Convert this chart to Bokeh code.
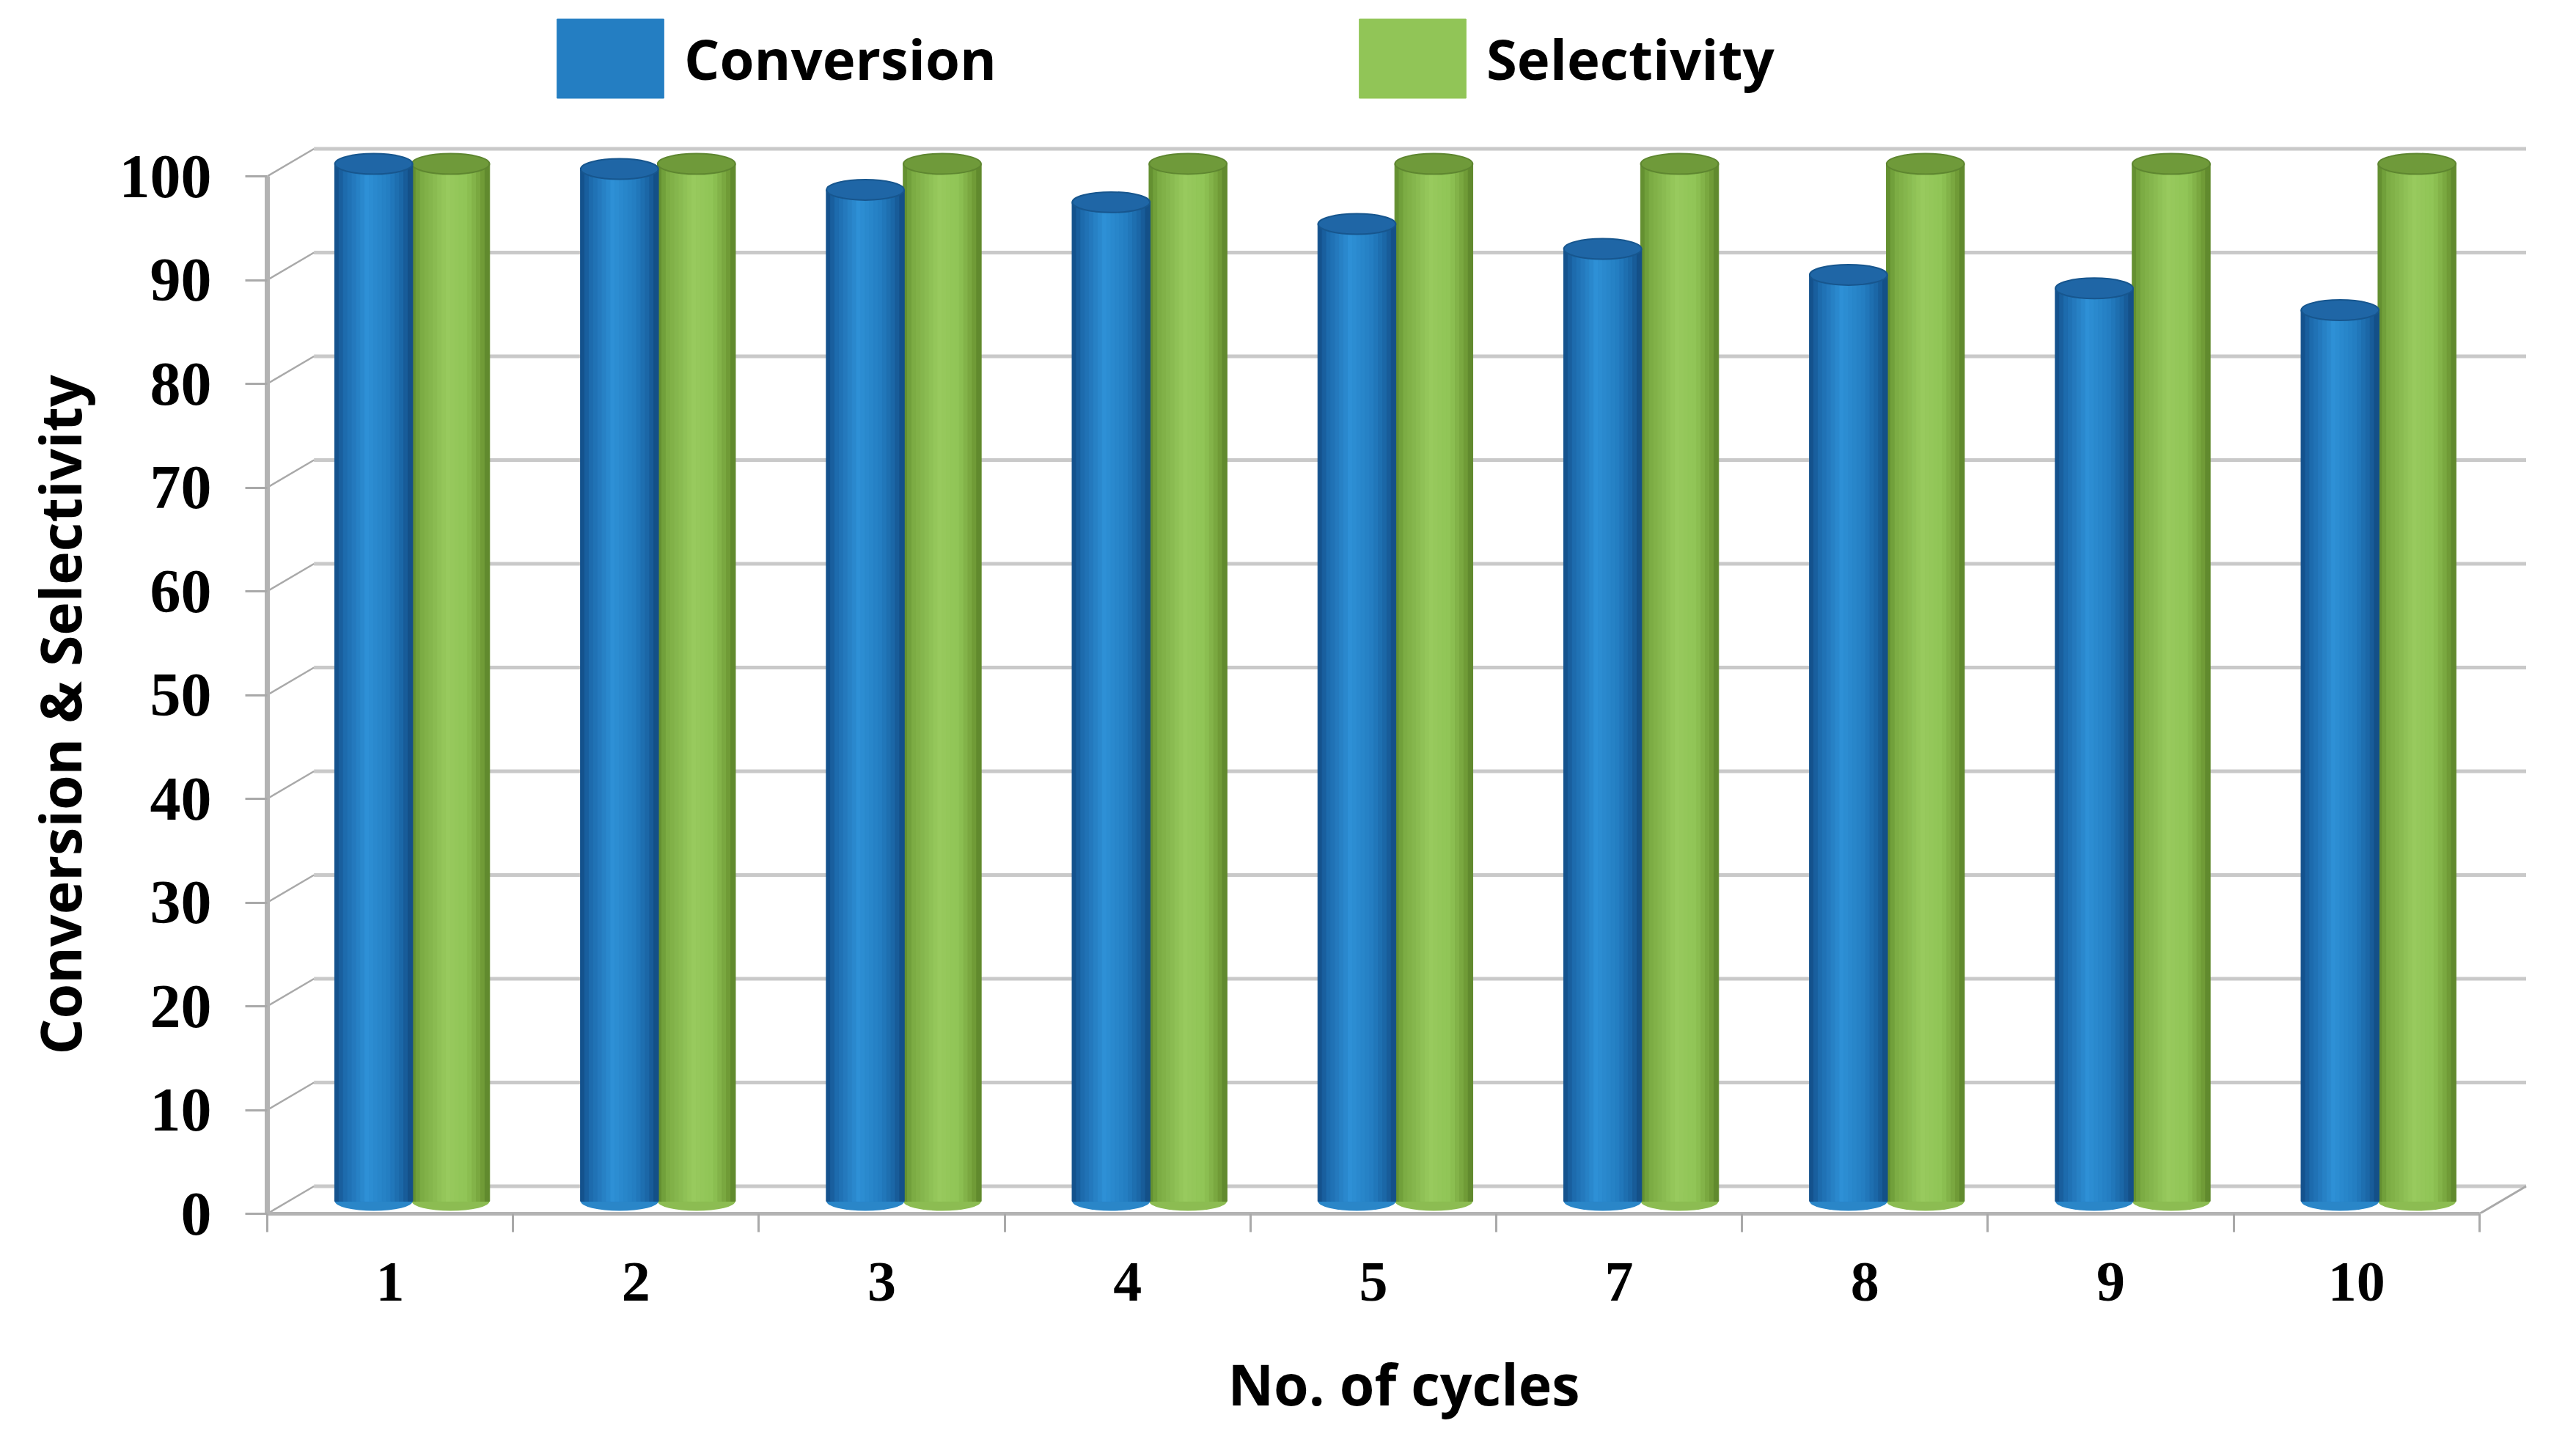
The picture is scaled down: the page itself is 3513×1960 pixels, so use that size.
import numpy as np
from bokeh.plotting import figure
from bokeh.models import FixedTicker, Legend, LegendItem, ColumnDataSource, Range1d, Title
from bokeh.embed import file_html
from bokeh.resources import INLINE

# ---------------- data ----------------
cycles = ["1", "2", "3", "4", "5", "7", "8", "9", "10"]
conversion = [100.0, 99.5, 97.5, 96.3, 94.2, 91.8, 89.3, 88.0, 85.9]
selectivity = [100.0, 100.0, 100.0, 100.0, 100.0, 100.0, 100.0, 100.0, 100.0]
y_ticks = [0, 10, 20, 30, 40, 50, 60, 70, 80, 90, 100]

# ---------------- style constants ----------------
DX_BACK = 0.19      # depth offset of back wall (category units)
DY_BACK = 2.65      # depth offset of back wall (value units)
BAR_W = 0.316
BLUE_OFF = -0.067
GREEN_OFF = 0.246
BAR_DY = 1.2
N_STRIPS = 18
LEG_STRIP = 12
GRID_C = "#c9c9c9"
DIAG_C = "#a9a9a9"

blue_stops = [(0.0, (18, 76, 132)), (0.12, (28, 104, 170)), (0.42, (46, 144, 214)),
              (0.70, (36, 126, 194)), (0.88, (26, 100, 164)), (1.0, (18, 74, 128))]
green_stops = [(0.0, (94, 136, 44)), (0.12, (122, 170, 66)), (0.46, (152, 202, 94)),
               (0.72, (144, 196, 86)), (0.90, (116, 160, 58)), (1.0, (90, 130, 42))]


def shade(stops, t):
    for (t0, c0), (t1, c1) in zip(stops[:-1], stops[1:]):
        if t0 <= t <= t1:
            f = (t - t0) / (t1 - t0)
            r, g, b = [int(round(a + (bb - a) * f)) for a, bb in zip(c0, c1)]
            return "#%02x%02x%02x" % (r, g, b)
    r, g, b = stops[-1][1]
    return "#%02x%02x%02x" % (r, g, b)


n = len(cycles)
FRAME_H = 1647
FRAME_W = 3100
PX_PER_UNIT = 14.15
PX_PER_CAT = 335.2
p = figure(
    output_backend="svg", toolbar_location=None,
    x_range=Range1d(0, FRAME_W / PX_PER_CAT), y_range=Range1d(0, FRAME_H / PX_PER_UNIT),
    frame_width=FRAME_W, frame_height=FRAME_H,
    min_border_left=362, min_border_right=35, min_border_top=8, min_border_bottom=289,
    background_fill_color="white", border_fill_color="white",
)
p.title.visible = False
p.outline_line_color = None
p.xgrid.visible = False
p.ygrid.visible = False

# back wall gridlines and depth diagonals
ticks = np.array(y_ticks, dtype=float)
p.segment(x0=[DX_BACK] * len(ticks), y0=ticks + DY_BACK, x1=[n + DX_BACK] * len(ticks), y1=ticks + DY_BACK,
          line_color=GRID_C, line_width=5)
p.segment(x0=[0] * len(ticks), y0=ticks, x1=[DX_BACK] * len(ticks), y1=ticks + DY_BACK,
          line_color=DIAG_C, line_width=2.5)
p.segment(x0=[n], y0=[0], x1=[n + DX_BACK], y1=[DY_BACK], line_color=DIAG_C, line_width=3)

# cylinders
def draw_series(values, offset, stops, cap_fill, cap_line, base_fill):
    vals = np.array(values, dtype=float)
    centers = np.arange(n) + 0.5 + offset
    xs, tops, cols = [], [], []
    for k in range(N_STRIPS):
        t = (k + 0.5) / N_STRIPS
        c = shade(stops, t)
        for i in range(n):
            xs.append(centers[i] - BAR_W / 2 + t * BAR_W)
            tops.append(vals[i] + BAR_DY)
            cols.append(c)
    src = ColumnDataSource(dict(x=xs, top=tops, bottom=[BAR_DY] * len(xs), c=cols))
    p.ellipse(x=centers, y=[BAR_DY] * n, width=BAR_W, height=26, height_units="screen",
              fill_color=base_fill, line_color=None)
    r = p.vbar(x="x", top="top", bottom="bottom", width=BAR_W / N_STRIPS * 1.08, source=src,
               fill_color="c", line_color="c", line_width=1)
    p.ellipse(x=centers, y=vals + BAR_DY, width=BAR_W, height=28, height_units="screen",
              fill_color=cap_fill, line_color=cap_line, line_width=2)
    return r

r_sel = draw_series(selectivity, GREEN_OFF, green_stops, "#6f9a3a", "#5e8630", "#8cbc52")
r_conv = draw_series(conversion, BLUE_OFF, blue_stops, "#1f66a6", "#17568e", "#2a86c8")

legend = Legend(items=[LegendItem(label="Conversion", renderers=[r_conv], index=LEG_STRIP * n),
                       LegendItem(label="Selectivity", renderers=[r_sel], index=LEG_STRIP * n)],
                orientation="horizontal", location=(377, 1508),
                glyph_width=182, glyph_height=135, label_standoff=10, label_width=902,
                spacing=0, padding=0, margin=0,
                label_text_font="Open Sans", label_text_font_style="bold",
                label_text_font_size="76px", label_text_color="black",
                background_fill_alpha=0, border_line_color=None)
p.add_layout(legend, "center")

# axes
yax = p.yaxis[0]
yax.ticker = FixedTicker(ticks=y_ticks)
yax.bounds = (0, 100)
yax.axis_line_color = "#b3b3b3"
yax.axis_line_width = 7
yax.major_tick_out = 30
yax.major_tick_in = 0
yax.major_tick_line_color = "#a9a9a9"
yax.major_tick_line_width = 3
yax.minor_tick_line_color = None
yax.major_label_standoff = 46
yax.major_label_text_font = "Liberation Serif"
yax.major_label_text_font_style = "bold"
yax.major_label_text_font_size = "84px"
yax.major_label_text_color = "black"

ytitle = Title(text="Conversion & Selectivity", align="left", offset=217, standoff=52,
               text_font="Open Sans", text_font_style="bold", text_font_size="77px",
               text_color="black")
p.add_layout(ytitle, "left")

xax = p.xaxis[0]
xax.ticker = FixedTicker(ticks=[i + 0.5 for i in range(n)], minor_ticks=list(range(n + 1)))
xax.major_label_overrides = {i + 0.5: cycles[i] for i in range(n)}
xax.bounds = (0, n)
xax.axis_line_color = "#b3b3b3"
xax.axis_line_width = 5
xax.major_tick_line_color = None
xax.major_tick_out = 0
xax.major_tick_in = 0
xax.minor_tick_out = 25
xax.minor_tick_in = 0
xax.minor_tick_line_color = "#a9a9a9"
xax.minor_tick_line_width = 3
xax.major_label_standoff = 42
xax.major_label_text_font = "Liberation Serif"
xax.major_label_text_font_style = "bold"
xax.major_label_text_font_size = "78px"
xax.major_label_text_color = "black"
xax.axis_label = "No. of cycles"
xax.axis_label_text_font = "Open Sans"
xax.axis_label_text_font_style = "bold"
xax.axis_label_text_font_size = "77px"
xax.axis_label_text_color = "black"
xax.axis_label_standoff = 58

open("out.html", "w").write(file_html(p, INLINE))
